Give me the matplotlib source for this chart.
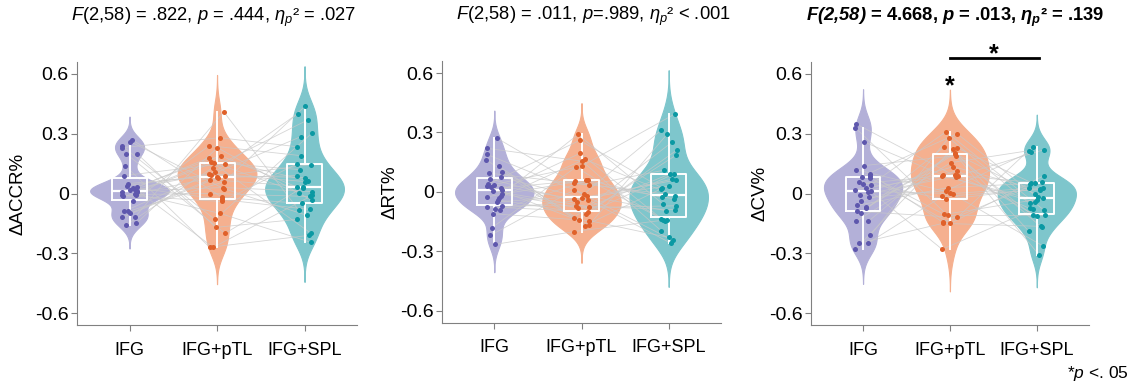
import matplotlib.pyplot as plt
import numpy as np

plt.rcParams['font.family'] = ['Liberation Sans', 'DejaVu Sans']
plt.rcParams['mathtext.fontset'] = 'custom'
plt.rcParams['mathtext.rm'] = 'Liberation Sans'
plt.rcParams['mathtext.it'] = 'Liberation Sans:italic'
plt.rcParams['mathtext.bf'] = 'Liberation Sans:bold'
plt.rcParams['mathtext.bfit'] = 'Liberation Sans:bold:italic'

# conditions
conditions = ['IFG', 'IFG+pTL', 'IFG+SPL']

# per-subject change scores (n = 30), same subject order in every list
acc_ifg = [0.02, -0.12, 0.24, 0.005, -0.09, 0.14, 0.035, -0.015, 0.27, -0.04,
           0.01, 0.20, -0.16, 0.05, -0.005, 0.23, 0.0, -0.10, 0.09, 0.015,
           -0.09, 0.26, 0.025, -0.01, -0.15, 0.04, 0.20, 0.01, -0.12, 0.03]
acc_ptl = [0.10, 0.41, -0.13, 0.155, 0.06, -0.27, 0.19, 0.085, -0.02, 0.24,
           0.03, -0.17, 0.13, 0.09, 0.0, 0.28, -0.10, 0.07, 0.15, -0.27,
           0.11, 0.025, 0.18, -0.04, 0.23, 0.095, -0.20, 0.16, 0.08, -0.03]
acc_spl = [0.06, -0.085, 0.305, 0.005, 0.44, -0.21, 0.033, 0.145, -0.05, 0.19,
           0.01, -0.13, 0.37, 0.08, -0.015, 0.235, -0.245, 0.035, 0.12, -0.01,
           0.40, -0.11, 0.065, 0.15, -0.035, 0.285, 0.03, -0.20, 0.09, -0.08]

rt_ifg = [0.035, -0.09, 0.16, -0.02, 0.005, -0.22, 0.10, 0.03, -0.05, 0.27,
          -0.075, 0.01, 0.065, -0.11, 0.02, 0.19, -0.03, -0.265, 0.095, -0.01,
          0.04, -0.085, 0.13, -0.025, 0.075, -0.18, 0.025, -0.07, 0.22, -0.04]
rt_ptl = [-0.035, 0.06, -0.14, 0.29, -0.075, 0.01, -0.17, 0.13, -0.02, 0.045,
          -0.10, 0.195, -0.05, -0.145, 0.055, -0.01, 0.165, -0.20, 0.035, -0.08,
          0.26, -0.04, -0.13, 0.06, -0.03, 0.125, -0.165, -0.07, 0.155, -0.11]
rt_spl = [0.03, -0.14, 0.21, -0.06, 0.09, -0.245, 0.015, 0.395, -0.095, -0.01,
          0.185, -0.135, 0.065, -0.23, -0.035, 0.31, -0.02, -0.14, 0.11, -0.07,
          0.02, -0.26, 0.25, -0.025, 0.06, -0.145, 0.29, -0.09, -0.195, 0.09]

cv_ifg = [0.05, -0.14, 0.33, -0.02, 0.085, -0.25, 0.015, 0.12, -0.075, 0.03,
          0.35, -0.21, 0.06, -0.04, 0.10, -0.28, 0.01, 0.26, -0.09, 0.045,
          -0.06, 0.14, -0.25, 0.02, 0.08, -0.10, -0.01, 0.09, -0.14, -0.07]
cv_ptl = [0.09, 0.23, -0.11, 0.015, 0.30, -0.15, 0.135, 0.005, 0.20, -0.28,
          0.085, 0.28, -0.03, 0.115, -0.145, 0.225, 0.0, 0.092, -0.12, 0.31,
          0.03, 0.19, -0.015, 0.095, -0.15, 0.235, 0.09, -0.105, 0.155, 0.205]
cv_spl = [-0.035, 0.055, -0.11, 0.21, -0.02, -0.165, 0.03, -0.265, 0.0, -0.08,
          0.22, -0.05, 0.025, -0.115, 0.06, -0.19, 0.03, -0.045, 0.235, -0.085,
          0.05, -0.31, 0.02, -0.075, 0.09, -0.11, 0.055, -0.025, 0.215, -0.17]

ylabels = ['\u0394ACCR%', '\u0394RT%', '\u0394CV%']
titles = [
    r'$\mathit{F(2{,}58)}$ = .822, $\mathit{p}$ = .444, $\mathit{\eta_p}$² = .027',
    r'$\mathit{F(2{,}58)}$ = .011, $\mathit{p}$=.989, $\mathit{\eta_p}$² < .001',
    r'$\mathbfit{F(2{,}58)}$ = 4.668, $\mathbfit{p}$ = .013, $\mathbfit{\eta_p}$² = .139',
]
yticks = [-0.6, -0.3, 0, 0.3, 0.6]
yticklabels = ['-0.6', '-0.3', '0', '0.3', '0.6']

fill_colors = ['#b3b0d8', '#f5b08f', '#7ec6cc']
dot_colors = ['#5e57ad', '#e0612a', '#0b99a3']

panels = [
    [acc_ifg, acc_ptl, acc_spl],
    [rt_ifg, rt_ptl, rt_spl],
    [cv_ifg, cv_ptl, cv_spl],
]

# axes rectangles [left, bottom, width, height] in figure fraction
rects = [[0.0681, 0.1688, 0.2476, 0.6726],
         [0.3908, 0.1747, 0.2467, 0.6690],
         [0.7170, 0.1688, 0.2458, 0.6726]]
title_x = [0.489, 0.541, 0.52]
label_x = [-0.180, -0.156, -0.153]

# fixed horizontal spread pattern for the dots
n_sub = 30
jitter = 0.09 * np.sin(np.arange(n_sub) * 2.399)
jitters = [jitter, np.roll(jitter, 7), np.roll(jitter, 13)]


def kde_nrd0(vals):
    vals = np.asarray(vals)
    sd = vals.std(ddof=1)
    iqr = np.percentile(vals, 75) - np.percentile(vals, 25)
    bw = 0.9 * min(sd, iqr / 1.34) * len(vals) ** (-0.2)
    grid = np.linspace(vals.min() - 3 * bw, vals.max() + 3 * bw, 512)
    dens = np.exp(-0.5 * ((grid[:, None] - vals[None, :]) / bw) ** 2).sum(axis=1)
    return grid, dens / dens.max()


fig = plt.figure(figsize=(11.31, 3.91), dpi=100)
positions = [1, 2, 3]

for p, groups in enumerate(panels):
    ax = fig.add_axes(rects[p])

    # violins
    for k, vals in enumerate(groups):
        grid, dens = kde_nrd0(vals)
        ax.fill_betweenx(grid, positions[k] - 0.45 * dens, positions[k] + 0.45 * dens,
                         facecolor=fill_colors[k], edgecolor=fill_colors[k],
                         lw=0.8, zorder=1)

    # paired lines between conditions
    xs = [positions[k] + jitters[k] for k in range(3)]
    for i in range(n_sub):
        ax.plot([xs[0][i], xs[1][i], xs[2][i]],
                [groups[0][i], groups[1][i], groups[2][i]],
                color='#c8c8c8', lw=0.6, alpha=0.75, zorder=2)

    # boxplots
    ax.boxplot(groups, positions=positions, widths=0.4, whis=1.5,
               showfliers=False, showcaps=False,
               boxprops=dict(color='white', lw=1.4),
               whiskerprops=dict(color='white', lw=1.4),
               medianprops=dict(color='white', lw=1.6),
               zorder=3)

    # dots
    for k, vals in enumerate(groups):
        ax.scatter(xs[k], vals, s=13, color=dot_colors[k], lw=0, zorder=4)

    ax.set_xlim(0.4, 3.6)
    ax.set_ylim(-0.66, 0.66)
    ax.set_xticks(positions)
    ax.set_xticklabels(conditions, fontsize=13)
    ax.set_yticks(yticks)
    ax.set_yticklabels(yticklabels, fontsize=14)
    ax.set_ylabel(ylabels[p], fontsize=13.5)
    ax.yaxis.set_label_coords(label_x[p], 0.5)
    for s in ['top', 'right']:
        ax.spines[s].set_visible(False)
    for s in ['left', 'bottom']:
        ax.spines[s].set_color('#808080')
    ax.tick_params(colors='#808080', labelcolor='black', length=4)
    ax.tick_params(axis='y', pad=2)
    ax.tick_params(axis='x', pad=8)

    ax.text(title_x[p], 1.171, titles[p], transform=ax.transAxes,
            ha='center', va='center', fontsize=13.2,
            fontweight='bold' if p == 2 else 'normal')

    if p == 2:
        ax.plot([2.0, 3.03], [0.68, 0.68], color='black', lw=2, clip_on=False)
        ax.text(2.5, 0.70, '*', ha='center', va='center', fontsize=18,
                fontweight='bold')
        ax.text(2.0, 0.54, '*', ha='center', va='center', fontsize=18,
                fontweight='bold')

fig.text(0.998, 0.045, r'*$\mathit{p}$ <. 05', ha='right', va='center', fontsize=12.5)

fig.savefig('out.png', dpi=100)
